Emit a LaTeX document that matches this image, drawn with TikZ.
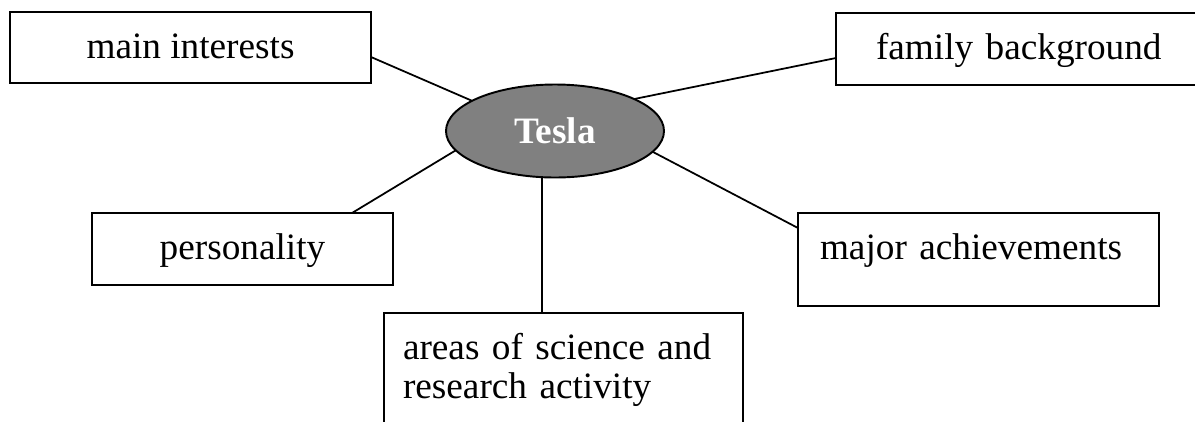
\documentclass[tikz,border=0pt]{standalone}
\usepackage{fontspec}
\setmainfont{Liberation Serif}
\usepackage{tikz}
\usepackage{xcolor}
\usetikzlibrary{shapes.geometric, positioning, calc}

\definecolor{hubgray}{HTML}{808080}

\begin{document}
\begin{tikzpicture}[
    topic/.style={draw=black, line width=1.1pt, fill=white, inner ysep=0pt,
                  text height=0.92cm, outer sep=0pt},
    link/.style={draw=black, line width=1pt}
]
\fontsize{21.2pt}{22.6pt}\selectfont
\useasboundingbox (0,0) rectangle (23.9,-8.42);
\clip (0,0) rectangle (23.9,-8.42);

% Central topic
\node[ellipse, draw=black, line width=1.1pt, fill=hubgray, inner sep=0pt, outer sep=0pt,
      minimum width=4.36cm, minimum height=1.86cm, text=white, font=\bfseries] (te) at (11.1,-2.62) {Tesla};

% Surrounding topics
\node[topic, inner xsep=0pt, minimum width=7.22cm, text depth=0.5cm] (mi) at (3.81,-0.95) {main interests};
\node[topic, inner xsep=0.8cm, text width=6.0cm, align=left, text depth=0.52cm] (fb) at (20.52,-0.98) {family background};
\node[topic, inner xsep=0pt, minimum width=6.02cm, text depth=0.52cm] (pe) at (4.85,-4.98) {personality};
\node[topic, inner xsep=0.44cm, text width=6.34cm, align=left, text depth=0.94cm] (ma) at (19.57,-5.19) {major achievements};
\node[topic, inner xsep=0.38cm, text width=6.42cm, align=left, text depth=1.88cm] (ar) at (11.27,-7.66) {areas of science and\\research activity};

% Connecting lines
\draw[link] ([yshift=-0.19cm]mi.east) -- (te.160);
\draw[link] ([yshift=-0.18cm]fb.west) -- (te.22);
\draw[link] ([xshift=-0.82cm]pe.north east) -- (te.191);
\draw[link] ([yshift=-0.3cm]ma.north west) -- (te.-12);
\draw[link] ([xshift=-0.43cm]ar.north) -- ([xshift=-0.43cm]ar.north |- te.south);
\end{tikzpicture}
\end{document}
